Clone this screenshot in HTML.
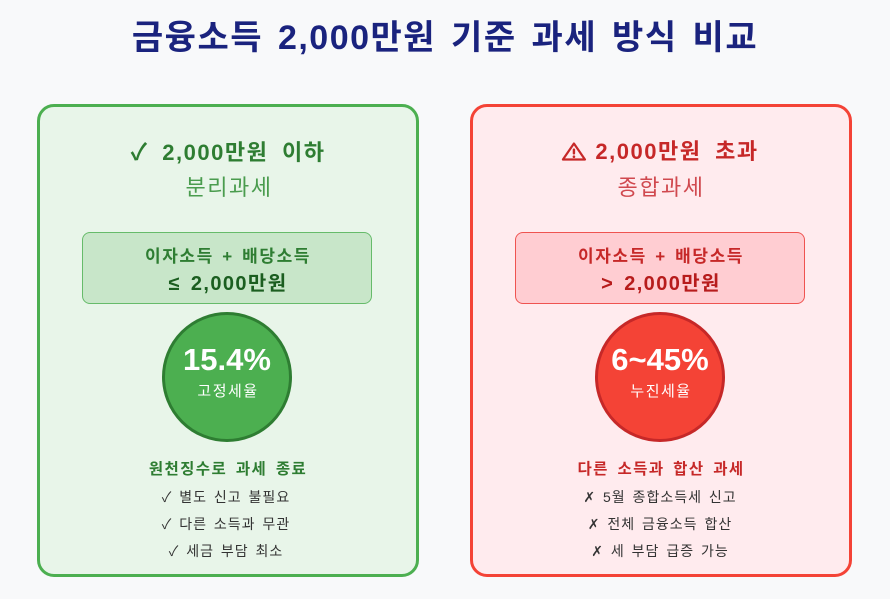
<!DOCTYPE html>
<html><head><meta charset="utf-8">
<style>
*{margin:0;padding:0;box-sizing:border-box}
html,body{width:890px;height:599px;background:#f8f9fa;overflow:hidden}
body{position:relative;font-family:"Liberation Sans","Noto Sans CJK KR",sans-serif}
.t{position:absolute;white-space:nowrap;text-align:center;transform:translateX(-50%)}
.card{position:absolute;top:104px;width:382px;height:473px;border:3px solid;border-radius:17px}
.box{position:absolute;top:232px;width:290px;height:72px;border:1.5px solid;border-radius:8px}
.circ{position:absolute;top:312px;width:130px;height:130px;border-radius:50%;border:3px solid}
.h{font-size:22px;line-height:32px;font-weight:bold;letter-spacing:1.5px;word-spacing:6px}
.s{font-size:22px;line-height:30px;letter-spacing:1.5px}
.b1{font-size:17px;line-height:24px;font-weight:bold;letter-spacing:1.6px;word-spacing:2px}
.b2{font-size:20px;line-height:28px;font-weight:bold;letter-spacing:1.4px;word-spacing:3px}
.p{font-size:31px;line-height:38px;font-weight:bold;color:#fff}
.r{font-size:15px;line-height:20px;color:#fff;letter-spacing:1.5px}
.c{font-size:15.5px;line-height:22px;font-weight:bold;letter-spacing:1.4px;word-spacing:3px}
.l{font-size:14px;line-height:20px;color:#333;letter-spacing:1px;word-spacing:2px}
</style></head><body>
<div class="t" style="left:445px;top:14px;font-size:34px;line-height:48px;font-weight:bold;color:#1a237e;letter-spacing:1.5px;word-spacing:4px">금융소득 2,000만원 기준 과세 방식 비교</div>

<!-- Left card -->
<div class="card" style="left:37px;background:#e8f5e9;border-color:#4caf50"></div>
<div class="t h" style="left:228px;top:136px;color:#2e7d32"><span style="font-size:23px">✓</span> 2,000만원 이하</div>
<div class="t s" style="left:229px;top:173px;color:#4a9c4e">분리과세</div>
<div class="box" style="left:82px;background:#c8e6c9;border-color:#66bb6a"></div>
<div class="t b1" style="left:228px;top:245px;color:#2e7d32">이자소득 + 배당소득</div>
<div class="t b2" style="left:228px;top:270px;color:#1b5e20">≤ 2,000만원</div>
<div class="circ" style="left:162px;background:#4caf50;border-color:#2e7d32"></div>
<div class="t p" style="left:227px;top:341px">15.4%</div>
<div class="t r" style="left:228px;top:382px">고정세율</div>
<div class="t c" style="left:228px;top:459px;color:#2e7d32">원천징수로 과세 종료</div>
<div class="t l" style="left:226px;top:487px">✓ 별도 신고 불필요</div>
<div class="t l" style="left:226px;top:514px">✓ 다른 소득과 무관</div>
<div class="t l" style="left:226px;top:541px">✓ 세금 부담 최소</div>

<!-- Right card -->
<div class="card" style="left:470px;background:#ffebee;border-color:#f44336"></div>
<div class="t h" style="left:660px;top:136px;color:#c62828"><svg width="25" height="19" viewBox="0 0 25 19" style="vertical-align:-2px;margin-right:9px"><path d="M12.5 1.5 L23.5 17.5 L1.5 17.5 Z" fill="none" stroke="#c62828" stroke-width="2.2" stroke-linejoin="round"/><rect x="11.3" y="6.5" width="2.4" height="6" rx="1" fill="#c62828"/><circle cx="12.5" cy="14.7" r="1.3" fill="#c62828"/></svg>2,000만원 초과</div>
<div class="t s" style="left:661px;top:173px;color:#d0494f">종합과세</div>
<div class="box" style="left:515px;background:#ffcdd2;border-color:#ef5350"></div>
<div class="t b1" style="left:661px;top:245px;color:#c62828">이자소득 + 배당소득</div>
<div class="t b2" style="left:661px;top:270px;color:#b71c1c">&gt; 2,000만원</div>
<div class="circ" style="left:595px;background:#f44336;border-color:#c62828"></div>
<div class="t p" style="left:660px;top:341px">6~45%</div>
<div class="t r" style="left:661px;top:382px">누진세율</div>
<div class="t c" style="left:661px;top:459px;color:#c62828">다른 소득과 합산 과세</div>
<div class="t l" style="left:660px;top:487px">✗ 5월 종합소득세 신고</div>
<div class="t l" style="left:660px;top:514px">✗ 전체 금융소득 합산</div>
<div class="t l" style="left:660px;top:541px">✗ 세 부담 급증 가능</div>
</body></html>
